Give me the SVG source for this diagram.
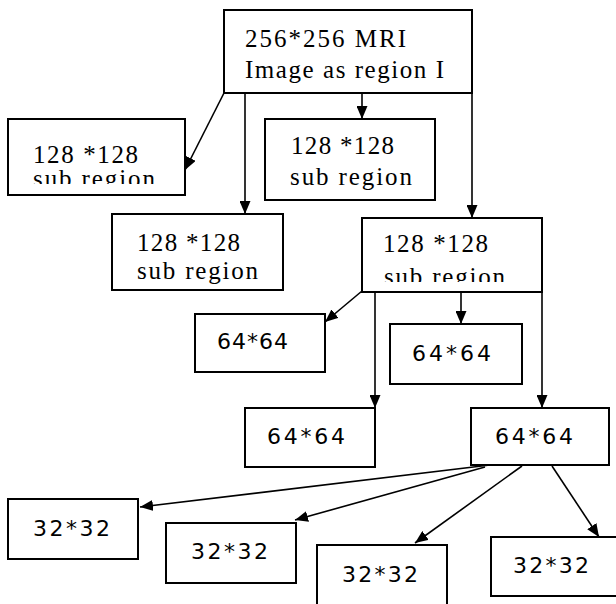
<svg xmlns="http://www.w3.org/2000/svg" width="616" height="604" viewBox="0 0 616 604">
<style>
.box{fill:#fff;stroke:#000;stroke-width:2}
.serif{font-family:"Liberation Serif","Times New Roman",serif;font-size:25px;fill:#000}
.sans{font-family:"DejaVu Sans",Verdana,sans-serif;font-size:22px;fill:#000}
.conn line{stroke:#000;stroke-width:1.6;marker-end:url(#arr)}
</style>
<defs>
<marker id="arr" markerUnits="userSpaceOnUse" markerWidth="13" markerHeight="11" refX="13" refY="5.5" orient="auto">
<path d="M0,0 L13,5.5 L0,11 z" fill="#000"/>
</marker>
<clipPath id="c2"><rect x="0" y="100" width="200" height="84"/></clipPath>
<clipPath id="c5"><rect x="360" y="200" width="200" height="82"/></clipPath>
</defs>
<rect width="616" height="604" fill="#fff"/>
<g id="n_top">
<rect class="box" x="224" y="10" width="248" height="83"/>
<text class="serif" x="245" y="47" textLength="161">256*256 MRI</text>
<text class="serif" x="245" y="78" textLength="199">Image as region I</text>
</g>
<g id="n_128a">
<rect class="box" x="8" y="119" width="177" height="76"/>
<text class="serif" x="33" y="163" textLength="105">128 *128</text>
<text class="serif" x="33" y="187" textLength="122" clip-path="url(#c2)">sub region</text>
</g>
<g id="n_128b">
<rect class="box" x="265" y="119" width="170" height="81"/>
<text class="serif" x="291" y="154" textLength="103">128 *128</text>
<text class="serif" x="290" y="185" textLength="122">sub region</text>
</g>
<g id="n_128c">
<rect class="box" x="112" y="214" width="171" height="76"/>
<text class="serif" x="137" y="251" textLength="103">128 *128</text>
<text class="serif" x="137" y="279" textLength="121">sub region</text>
</g>
<g id="n_128d">
<rect class="box" x="362" y="218" width="180" height="74"/>
<text class="serif" x="383" y="252" textLength="105">128 *128</text>
<text class="serif" x="384" y="285" textLength="121" clip-path="url(#c5)">sub region</text>
</g>
<g id="n_64a">
<rect class="box" x="195" y="314" width="130" height="58"/>
<text class="sans" x="217" y="349" textLength="71">64*64</text>
</g>
<g id="n_64b">
<rect class="box" x="390" y="324" width="132" height="60"/>
<text class="sans" x="412" y="361" textLength="79">64*64</text>
</g>
<g id="n_64c">
<rect class="box" x="245" y="408" width="130" height="59"/>
<text class="sans" x="267" y="444" textLength="78">64*64</text>
</g>
<g id="n_64d">
<rect class="box" x="471" y="408" width="138" height="57"/>
<text class="sans" x="495" y="444" textLength="78">64*64</text>
</g>
<g id="n_32a">
<rect class="box" x="8" y="499" width="130" height="60"/>
<text class="sans" x="33" y="536" textLength="77">32*32</text>
</g>
<g id="n_32b">
<rect class="box" x="166" y="523" width="130" height="60"/>
<text class="sans" x="191" y="559" textLength="77">32*32</text>
</g>
<g id="n_32c">
<rect class="box" x="317" y="545" width="130" height="70"/>
<text class="sans" x="342" y="582" textLength="76">32*32</text>
</g>
<g id="n_32d">
<rect class="box" x="491" y="537" width="135" height="59"/>
<text class="sans" x="513" y="573" textLength="76">32*32</text>
</g>
<g id="connectors" class="conn">
<line x1="224" y1="93" x2="185" y2="170"/>
<line x1="245" y1="93" x2="245" y2="214"/>
<line x1="362" y1="93" x2="362" y2="119"/>
<line x1="472" y1="93" x2="472" y2="218"/>
<line x1="362" y1="291" x2="325" y2="322"/>
<line x1="375" y1="292" x2="375" y2="408"/>
<line x1="461" y1="292" x2="461" y2="324"/>
<line x1="542" y1="292" x2="542" y2="408"/>
<line x1="490" y1="465" x2="140" y2="507"/>
<line x1="485" y1="467" x2="295" y2="520"/>
<line x1="522" y1="466" x2="415" y2="543"/>
<line x1="552" y1="466" x2="599" y2="537"/>
</g>
</svg>
